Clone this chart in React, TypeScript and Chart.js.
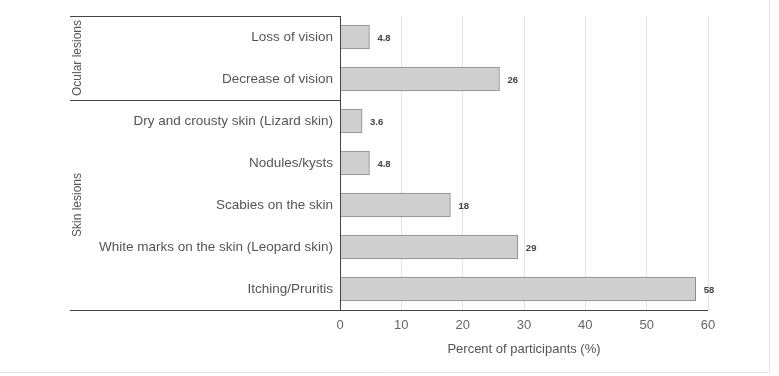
import React, { useEffect, useRef } from "react";
import { Chart, registerables } from "chart.js";

Chart.register(...registerables);

const categories = [
  "Loss of vision",
  "Decrease of vision",
  "Dry and crousty skin (Lizard skin)",
  "Nodules/kysts",
  "Scabies on the skin",
  "White marks on the skin (Leopard skin)",
  "Itching/Pruritis",
];
const values = [4.8, 26, 3.6, 4.8, 18, 29, 58];
const valueLabels = ["4.8", "26", "3.6", "4.8", "18", "29", "58"];
const groups = [
  { label: "Ocular lesions", start: 0, end: 1 },
  { label: "Skin lesions", start: 2, end: 6 },
];
const xTicks = [0, 10, 20, 30, 40, 50, 60];
const xTitle = "Percent of participants (%)";

const FONT = "'Liberation Sans', Arial, sans-serif";

const overlay = {
  id: "overlay",
  afterDraw(chart: any) {
    const ctx = chart.ctx;
    const area = chart.chartArea;
    const y = chart.scales.y;
    const leftEdge = 70;
    ctx.save();
    // outer faint frame
    ctx.strokeStyle = "#e4e4e4";
    ctx.lineWidth = 1;
    ctx.beginPath();
    ctx.moveTo(0, 372.5);
    ctx.lineTo(769.5, 372.5);
    ctx.lineTo(769.5, 0);
    ctx.stroke();

    // group separators
    ctx.strokeStyle = "#444";
    ctx.lineWidth = 1;
    const bandH = y.getPixelForValue(1) - y.getPixelForValue(0);
    ctx.beginPath();
    ctx.moveTo(leftEdge, Math.round(area.top) + 0.5);
    ctx.lineTo(area.left, Math.round(area.top) + 0.5);
    groups.forEach((g, i) => {
      if (i > 0) {
        const yy = Math.round(y.getPixelForValue(g.start) - bandH / 2) + 0.5;
        ctx.moveTo(leftEdge, yy);
        ctx.lineTo(area.left, yy);
      }
    });
    const by = Math.round(area.bottom) + 0.5;
    ctx.moveTo(leftEdge, by);
    ctx.lineTo(area.right, by);
    const lx = Math.round(area.left) + 0.5;
    ctx.moveTo(lx, area.top);
    ctx.lineTo(lx, area.bottom);
    ctx.stroke();

    // group labels
    ctx.fillStyle = "#555";
    ctx.font = `12px ${FONT}`;
    ctx.textAlign = "center";
    ctx.textBaseline = "middle";
    groups.forEach((g) => {
      const y0 = y.getPixelForValue(g.start) - bandH / 2;
      const y1 = y.getPixelForValue(g.end) + bandH / 2;
      ctx.save();
      ctx.translate(78, (y0 + y1) / 2);
      ctx.rotate(-Math.PI / 2);
      ctx.fillText(g.label, 0, 0);
      ctx.restore();
    });

    // value labels
    ctx.fillStyle = "#444";
    ctx.font = `bold 9.5px ${FONT}`;
    ctx.textAlign = "left";
    const meta = chart.getDatasetMeta(0);
    meta.data.forEach((bar: any, i: number) => {
      ctx.fillText(valueLabels[i], bar.x + 8, bar.y + 1);
    });
    ctx.restore();
  },
};

export default function App() {
  const ref = useRef<HTMLCanvasElement>(null);
  useEffect(() => {
    const chart = new Chart(ref.current!, {
      type: "bar",
      data: {
        labels: categories,
        datasets: [
          {
            data: values,
            backgroundColor: "#d0cfcf",
            borderColor: "#8a8a8a",
            borderWidth: 1,
            barThickness: 24,
          },
        ],
      },
      options: {
        indexAxis: "y",
        animation: false,
        responsive: false,
        layout: { padding: { top: 16, right: 71, left: 0, bottom: 0 } },
        plugins: { legend: { display: false }, tooltip: { enabled: false } },
        scales: {
          x: {
            min: 0,
            max: 60,
            afterFit: (s: any) => {
              s.height = 376 - 310;
            },
            afterBuildTicks: (s: any) => {
              s.ticks = xTicks.map((v) => ({ value: v }));
            },
            grid: { color: "#e2e2e2", drawTicks: false },
            border: { display: false },
            ticks: {
              color: "#666",
              font: { family: FONT, size: 13 },
              padding: 8,
            },
            title: {
              display: true,
              text: xTitle,
              color: "#555",
              font: { family: FONT, size: 13 },
              padding: { top: 0, bottom: 19 },
            },
          },
          y: {
            afterFit: (s: any) => {
              s.width = 340;
            },
            grid: { display: false, drawTicks: false },
            border: { display: false },
            ticks: {
              color: "#555",
              font: { family: FONT, size: 13.5 },
              padding: 7,
            },
          },
        },
      },
      plugins: [overlay],
    });
    return () => chart.destroy();
  }, []);
  return (
    <div style={{ position: "fixed", left: 0, top: 0, width: 779, height: 376, background: "#fff" }}>
      <canvas ref={ref} width={779} height={376} style={{ display: "block" }} />
    </div>
  );
}
